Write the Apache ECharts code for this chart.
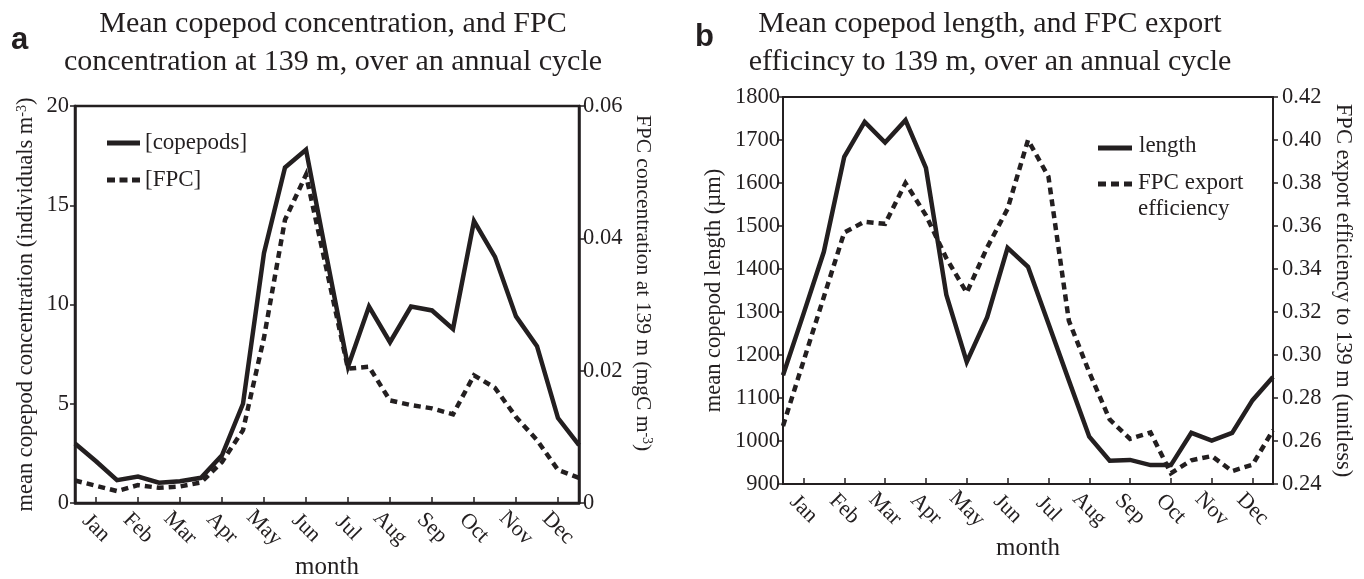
<!DOCTYPE html>
<html>
<head>
<meta charset="utf-8">
<script src="https://cdn.jsdelivr.net/npm/echarts@6/dist/echarts.min.js"></script>
<style>html,body{margin:0;padding:0;background:#fff;}#c{width:1364px;height:579px;}</style>
</head>
<body>
<div id="c"></div>
<script>
// Month tick labels (ticks sit mid-month); data are at half-month steps, 25 points (Jan 1 .. Dec 31)
const months = ['Jan','Feb','Mar','Apr','May','Jun','Jul','Aug','Sep','Oct','Nov','Dec'];

// Panel a
const copepodConc = [3.0, 2.1, 1.15, 1.33, 1.02, 1.1, 1.27, 2.4, 5.0, 12.6, 16.9, 17.8, 12.3, 6.87, 9.9, 8.1, 9.9, 9.7, 8.77, 14.2, 12.4, 9.4, 7.9, 4.28, 2.92];
const fpcConc = [0.0034, 0.0026, 0.0018, 0.0027, 0.0023, 0.0025, 0.0031, 0.0062, 0.011, 0.025, 0.0428, 0.0496, 0.035, 0.0203, 0.0206, 0.0155, 0.0148, 0.0143, 0.0134, 0.0193, 0.0174, 0.013, 0.0095, 0.005, 0.0038];

// Panel b
const copepodLength = [1153, 1295, 1440, 1661, 1742, 1694, 1746, 1635, 1340, 1184, 1288, 1449, 1405, 1273, 1141, 1010, 954, 956, 944, 944, 1019, 1001, 1019, 1095, 1149];
const fpcExportEff = [0.267, 0.297, 0.327, 0.357, 0.362, 0.361, 0.380, 0.365, 0.345, 0.329, 0.350, 0.368, 0.400, 0.383, 0.316, 0.292, 0.270, 0.261, 0.264, 0.245, 0.251, 0.253, 0.246, 0.249, 0.265];

const leftTicksA = {min: 0, max: 20, interval: 5};
const rightTicksA = {min: 0, max: 0.06, interval: 0.02};
const leftTicksB = {min: 900, max: 1800, interval: 100};
const rightTicksB = {min: 0.24, max: 0.42, interval: 0.02};

// categories: index 2k+1 is mid-month k
const cats = [];
for (let i = 0; i < 25; i++) cats.push(i % 2 === 1 ? months[(i - 1) / 2] : String(i));

const INK = '#231f20';
const SERIF = 'Liberation Serif';

function xAxis(gridIndex, lw, gap) {
  return {
    type: 'category', gridIndex, data: cats, boundaryGap: false,
    name: 'month', nameLocation: 'middle', nameGap: gap, nameMoveOverlap: false,
    nameTextStyle: {fontFamily: SERIF, fontSize: 25, color: INK},
    axisLine: {lineStyle: {color: INK, width: lw}},
    axisTick: {inside: true, length: 6, lineStyle: {color: INK, width: 1.5}, interval: (i) => i % 2 === 1},
    axisLabel: {interval: (i) => i % 2 === 1, rotate: -45, align: 'center', verticalAlign: 'middle', margin: 25,
      fontFamily: SERIF, fontSize: 22, color: INK},
    splitLine: {show: false}
  };
}
function yAxis(gridIndex, pos, t, name, gap, rot, fmt, lw, margin, pad, nameSize) {
  return {
    type: 'value', gridIndex, position: pos, min: t.min, max: t.max, interval: t.interval,
    name, nameLocation: 'middle', nameGap: gap, nameRotate: rot,
    nameTextStyle: {fontFamily: SERIF, fontSize: nameSize || 22.5, color: INK, padding: pad || 0,
      rich: {sup: {fontFamily: SERIF, fontSize: 14, color: INK, verticalAlign: 'top', lineHeight: 14}}},
    axisLine: {show: true, lineStyle: {color: INK, width: lw}},
    axisTick: {show: true, length: 5, lineStyle: {color: INK, width: 1.5}},
    axisLabel: {fontFamily: SERIF, fontSize: 22.5, color: INK, margin: margin, formatter: fmt},
    splitLine: {show: false}
  };
}
const fmt2 = (v) => v === 0 ? '0' : v.toFixed(2);

const solid = (w) => ({color: INK, width: w, type: 'solid', join: 'miter'});
const dashed = (w) => ({color: INK, width: w, type: [7, 5], join: 'miter'});

const legendFont = '23px "Liberation Serif"';
function keyLine(x1, x2, y, dash) {
  return {type: 'line', shape: {x1, y1: y, x2, y2: y}, style: {stroke: INK, lineWidth: 5, lineDash: dash || null}, silent: true};
}
function keyText(x, y, text) {
  return {type: 'text', x, y, style: {text, font: legendFont, fill: INK, verticalAlign: 'middle', align: 'left'}, silent: true};
}

const option = {
  backgroundColor: '#fff',
  animation: false,
  title: [
    {text: 'Mean copepod concentration, and FPC\nconcentration at 139 m, over an annual cycle', left: 328, top: 0, textAlign: 'center',
      textStyle: {fontFamily: SERIF, fontSize: 30, fontWeight: 'normal', lineHeight: 38, color: INK}},
    {text: 'Mean copepod length, and FPC export\nefficincy to 139 m, over an annual cycle', left: 985, top: 0, textAlign: 'center',
      textStyle: {fontFamily: SERIF, fontSize: 30, fontWeight: 'normal', lineHeight: 38, color: INK}},
    {text: 'a', left: 6, top: 20, textStyle: {fontFamily: 'Liberation Sans', fontSize: 31, fontWeight: 'bold', color: INK}},
    {text: 'b', left: 690, top: 17, textStyle: {fontFamily: 'Liberation Sans', fontSize: 31, fontWeight: 'bold', color: INK}}
  ],
  graphic: [
    keyLine(107, 140, 143), keyText(145, 143, '[copepods]'),
    keyLine(107, 140, 180, [8, 4.5]), keyText(145, 180, '[FPC]'),
    keyLine(1098, 1132, 148), keyText(1139, 146, 'length'),
    keyLine(1098, 1132, 184, [8, 5]), keyText(1138, 183, 'FPC export'), keyText(1138, 209, 'efficiency')
  ],
  grid: [
    {left: 75, right: 785, top: 106, bottom: 76, show: true, borderColor: INK, borderWidth: 2.5, backgroundColor: 'transparent',
      containLabel: false, outerBoundsMode: 'none'},
    {left: 783, right: 91, top: 97, bottom: 95, show: true, borderColor: INK, borderWidth: 1.8, backgroundColor: 'transparent',
      containLabel: false, outerBoundsMode: 'none'}
  ],
  xAxis: [xAxis(0, 2.5, 52), xAxis(1, 1.8, 52)],
  yAxis: [
    yAxis(0, 'left', leftTicksA, 'mean copepod concentration (individuals m{sup|-3})', 37, 90, (v) => String(v), 2.5, 6),
    yAxis(0, 'right', rightTicksA, 'FPC concentration at 139 m (mgC m{sup|-3})', 53, -90, fmt2, 2.5, 4, [0, 43, 0, 0], 21.5),
    yAxis(1, 'left', leftTicksB, 'mean copepod length (\u00b5m)', 57, 90, (v) => String(v), 1.8, 3),
    yAxis(1, 'right', rightTicksB, 'FPC export efficiency to 139 m (unitless)', 58, -90, (v) => v.toFixed(2), 1.8, 9)
  ],
  series: [
    {name: '[copepods]', type: 'line', xAxisIndex: 0, yAxisIndex: 0, data: copepodConc, symbol: 'none', lineStyle: solid(4.5), itemStyle: {color: INK}},
    {name: '[FPC]', type: 'line', xAxisIndex: 0, yAxisIndex: 1, data: fpcConc, symbol: 'none', lineStyle: dashed(4.5), itemStyle: {color: INK}},
    {name: 'length', type: 'line', xAxisIndex: 1, yAxisIndex: 2, data: copepodLength, symbol: 'none', lineStyle: solid(4.5), itemStyle: {color: INK}},
    {name: 'FPC export efficiency', type: 'line', xAxisIndex: 1, yAxisIndex: 3, data: fpcExportEff, symbol: 'none', lineStyle: dashed(4.5), itemStyle: {color: INK}}
  ]
};
const chart = echarts.init(document.getElementById('c'), null, {renderer: 'canvas'});
chart.setOption(option);
</script>
</body>
</html>
